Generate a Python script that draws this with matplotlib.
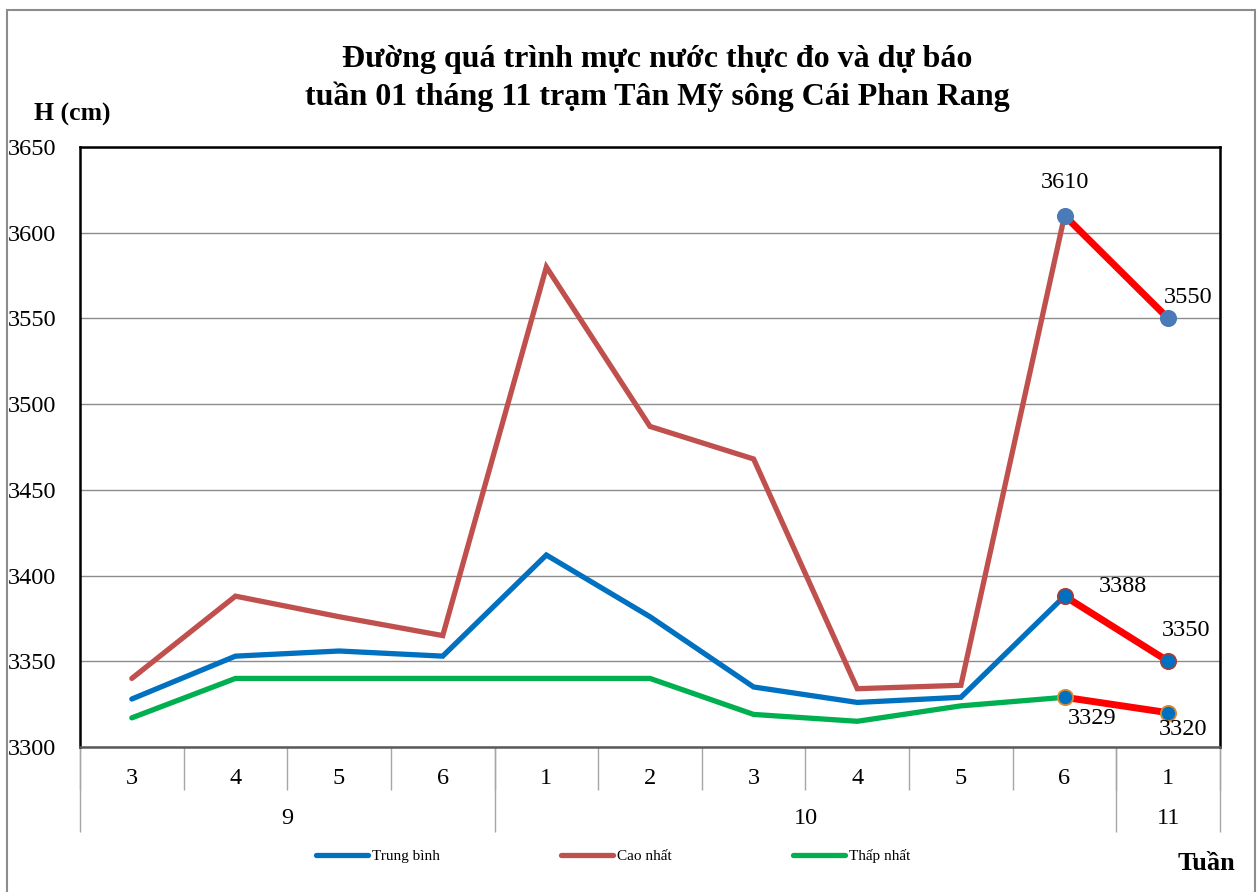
import numpy as np
import matplotlib.pyplot as plt
from matplotlib.patches import Rectangle
from matplotlib.lines import Line2D

plt.rcParams['font.family'] = ['Liberation Serif', 'DejaVu Serif']

weeks = ['3', '4', '5', '6', '1', '2', '3', '4', '5', '6', '1']
months = ['9', '10', '11']
month_spans = [(0, 4), (4, 10), (10, 11)]

trung_binh = [3328, 3353, 3356, 3353, 3412, 3376, 3335, 3326, 3329, 3388, 3350]
cao_nhat = [3340, 3388, 3376, 3365, 3580, 3487, 3468, 3334, 3336, 3610, 3550]
thap_nhat = [3317, 3340, 3340, 3340, 3340, 3340, 3319, 3315, 3324, 3329, 3320]

series_names = ['Trung bình', 'Cao nhất', 'Thấp nhất']

# forecast starts at index 9 (last measured) -> 10
n_obs = 10

fig = plt.figure(figsize=(12.6, 8.92), dpi=100)
ax = fig.add_axes([80/1260, 1-747/892, 1140/1260, 600/892])

# outer frame of the chart area
fig.patches.append(Rectangle((7/1260, -0.05), 1248/1260, 1.05 - 10/892,
                             transform=fig.transFigure, fill=False,
                             edgecolor='#8c8c8c', lw=1.5))

x = np.arange(len(weeks))

line_cols = ['#0070C0', '#C0504D', '#00B050']
marker_face = ['#0070C0', '#4A7BB7', '#0070C0']
marker_edge = ['#A0403D', '#4A7BB7', '#E08A2E']
data = [trung_binh, cao_nhat, thap_nhat]

for vals, col, name in zip(data, line_cols, series_names):
    ax.plot(x[:n_obs], vals[:n_obs], color=col, lw=3.8,
            solid_joinstyle='miter', solid_capstyle='round', label=name, zorder=3)

for vals, fc, ec in zip(data, marker_face, marker_edge):
    ax.plot(x[n_obs-1:], vals[n_obs-1:], color='#FF0000', lw=5, zorder=4)
    ax.plot(x[n_obs-1:], vals[n_obs-1:], ls='none', marker='o', ms=11,
            mfc=fc, mec=ec, mew=1.3, zorder=5)

# data labels for the last two points
label_off = {
    (1, 9): (0, 24), (1, 10): (14, 15),
    (0, 9): (42, 7), (0, 10): (13, 22),
    (2, 9): (20, -15), (2, 10): (11, -12),
}
for (si, i), off in label_off.items():
    ax.annotate(str(data[si][i]), (x[i], data[si][i]), xytext=off,
                textcoords='offset points', ha='center', va='center',
                fontsize=17.5, zorder=6)

ax.set_xlim(-0.5, len(weeks) - 0.5)
ax.set_ylim(3300, 3650)
ax.set_yticks(np.arange(3300, 3651, 50))
ax.yaxis.grid(True, color='#8c8c8c', lw=1)
ax.set_axisbelow(True)
ax.tick_params(axis='y', length=0, labelsize=17.5, pad=17)

# week ticks: labels centred, separators as minor ticks
ax.set_xticks(x)
ax.set_xticklabels(weeks)
ax.set_xticks(np.arange(-0.5, len(weeks)), minor=True)
ax.tick_params(axis='x', which='major', length=0, labelsize=17.5, pad=15)
ax.tick_params(axis='x', which='minor', length=31, width=1, color='#a6a6a6')

# month row
sec = ax.secondary_xaxis('bottom')
bounds = [month_spans[0][0] - 0.5] + [e - 0.5 for s, e in month_spans]
sec.set_xticks(bounds)
sec.set_xticklabels([''] * len(bounds))
sec.tick_params(length=61, width=1, color='#a6a6a6')
sec.spines['bottom'].set_visible(False)
for m, (s, e) in zip(months, month_spans):
    ax.text((s + e - 1) / 2, -71 / 600, m, transform=ax.get_xaxis_transform(),
            ha='center', va='center', fontsize=17.5)

for sp in ax.spines.values():
    sp.set_color('#000000')
    sp.set_linewidth(1.8)
ax.spines['bottom'].set_color('#595959')

fig.text(657/1260, 1-60/892, 'Đường quá trình mực nước thực đo và dự báo',
         ha='center', va='center', fontsize=23, fontweight='bold')
fig.text(657/1260, 1-97/892, 'tuần 01 tháng 11 trạm Tân Mỹ sông Cái Phan Rang',
         ha='center', va='center', fontsize=23, fontweight='bold')
fig.text(72/1260, 1-114/892, 'H (cm)', ha='center', va='center',
         fontsize=18.5, fontweight='bold')
fig.text(1206/1260, 1-864/892, 'Tuần', ha='center', va='center',
         fontsize=19, fontweight='bold')

handles = [Line2D([], [], color=c, lw=3.8, solid_capstyle='round') for c in line_cols]
fig.legend(handles, series_names, loc='center', bbox_to_anchor=(613/1260, 1-856/892),
           ncol=3, frameon=False, fontsize=11, handlelength=3.4, handletextpad=0.3,
           columnspacing=7.9)

fig.savefig('out.png', dpi=100)
